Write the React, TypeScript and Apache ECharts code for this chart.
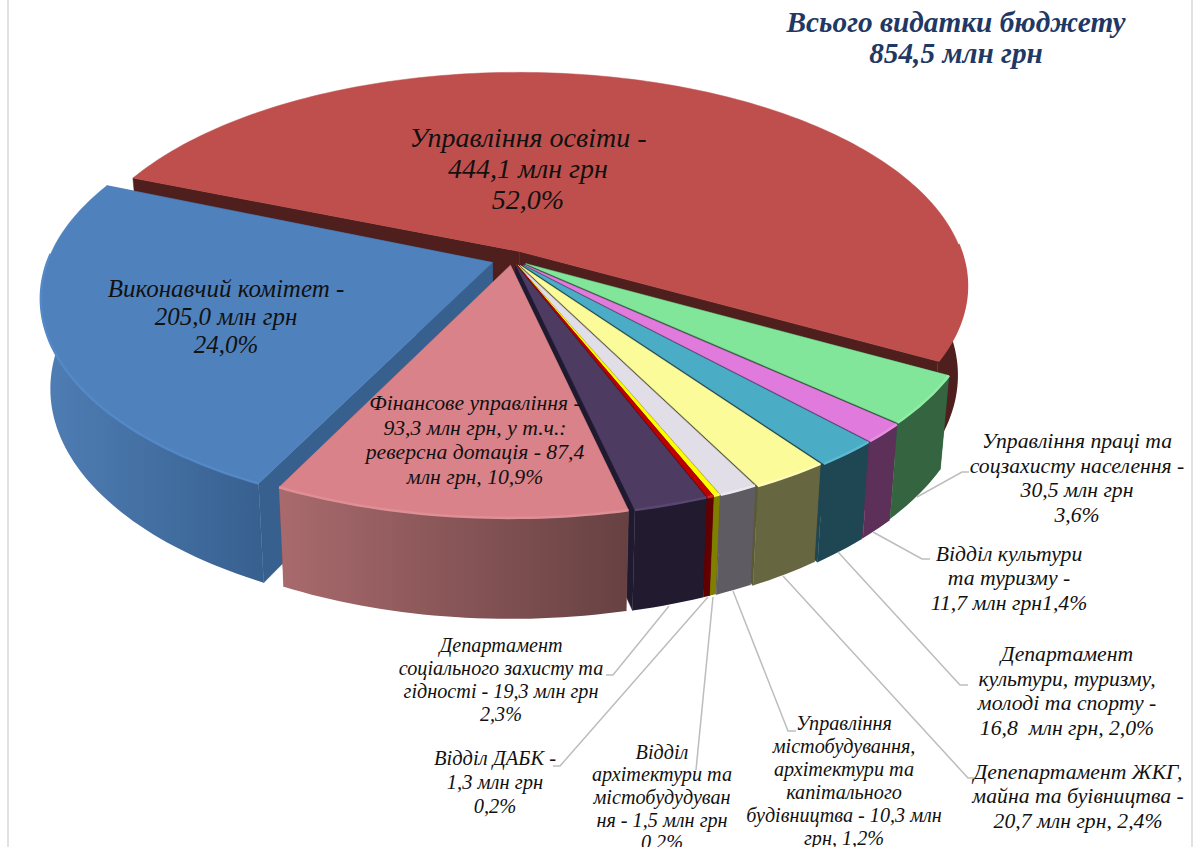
import React, { useEffect, useRef } from "react";
import * as echarts from "echarts";

const names = ["Управління освіти","Управління праці та соцзахисту населення","Відділ культури та туризму","Департамент культури, туризму, молоді та спорту","Депепартамент ЖКГ, майна та буівництва","Управління містобудування, архітектури та капітального будівництва","Відділ архітектури та містобудудування","Відділ ДАБК","Департамент соціального захисту та гідності","Фінансове управління","Виконавчий комітет"];
const shares = [52.0, 3.6, 1.4, 2.0, 2.4, 1.2, 0.2, 0.2, 2.3, 10.9, 24.0];
const explode = [0.04, 0.038, 0.04, 0.04, 0.036, 0.032, 0.03, 0.03, 0.03, 0.03, 0.047];
const topColors = ["#BE4F4C","#82E69A","#E17ADD","#4BACC6","#FBFB99","#E2DEE8","#FFFF00","#C00000","#4E3B62","#D9828A","#4F81BD"];
const wallFrom = ["#4F1F1E","#356440","#5C3058","#1F4753","#666640","#5F5B62","#7F7F00","#600000","#221A2F","#A96A6D","#4F7EB5"];
const wallTo = ["#4F1F1E","#356440","#5C3058","#1F4753","#666640","#5F5B62","#7F7F00","#600000","#221A2F","#674142","#37608F"];
const faceColors = ["#4F1F1E","#2F5A3A","#5C3058","#1F4753","#5A5A38","#5F5B62","#7F7F00","#600000","#1F1A30","#8A5557","#37608F"];
const rimColors = ["#BE4F4C","#8FEDA5","#E78FE3","#5DB8D0","#FDFDB5","#ECE9F0","#FFFF40","#D02020","#5A4770","#E08F97","#5588C6"];
const paintOrder = [0, 1, 2, 3, 4, 5, 6, 7, 8, 10, 9];

const titleLines = "Всього видатки бюджету\n854,5 млн грн";
const labelTexts = [
  { t: "Управління освіти -\n444,1 млн грн\n52,0%", x: 528, y: 168, s: 28, lh: 31 },
  { t: "Виконавчий комітет -\n205,0 млн грн\n24,0%", x: 226, y: 316, s: 25, lh: 28 },
  { t: "Фінансове управління -\n93,3 млн грн, у т.ч.:\nреверсна дотація - 87,4\nмлн грн, 10,9%", x: 475, y: 440, s: 21.7, lh: 24.5 },
  { t: "Управління праці та\nсоцзахисту населення -\n30,5 млн грн\n3,6%", x: 1077, y: 478, s: 21.7, lh: 24.5 },
  { t: "Відділ культури\nта туризму -\n11,7 млн грн1,4%", x: 1009, y: 578, s: 21.7, lh: 24.5 },
  { t: "Департамент\nкультури, туризму,\nмолоді та спорту -\n16,8  млн грн, 2,0%", x: 1067, y: 691, s: 21.7, lh: 24.5 },
  { t: "Депепартамент ЖКГ,\nмайна та буівництва -\n20,7 млн грн, 2,4%", x: 1078, y: 796, s: 21.7, lh: 24.5 },
  { t: "Управління\nмістобудування,\nархітектури та\nкапітального\nбудівництва - 10,3 млн\nгрн, 1,2%", x: 844, y: 780, s: 20.2, lh: 23 },
  { t: "Відділ\nархітектури та\nмістобудудуван\nня - 1,5 млн грн\n0,2%", x: 662, y: 797, s: 20.2, lh: 22.7 },
  { t: "Відділ ДАБК -\n1,3 млн грн\n0,2%", x: 495, y: 782, s: 20.5, lh: 24 },
  { t: "Департамент\nсоціального захисту та\nгідності - 19,3 млн грн\n2,3%", x: 501, y: 679, s: 20.2, lh: 23 },
];
const leaders = [
  [[917, 497], [962, 472], [969, 472]],
  [[873, 532], [922, 559], [930, 559]],
  [[838, 552], [960, 685], [968, 685]],
  [[783, 576], [968, 778], [975, 778]],
  [[733, 591], [788, 731], [796, 731]],
  [[713, 597], [696, 770]],
  [[708, 597], [560, 766], [553, 766]],
  [[669, 606], [613, 675], [606, 675]],
];

const CX = 512, CY = 259, RX = 444, RY = 210, K = 0.16, START = 158;
const project = (X: number, Y: number) => {
  const w = 1 + K * Y;
  return [CX + (RX * X) / w, CY - (RY * Y) / w];
};
const lower = (p: number[]) => [515 + (p[0] - 515) * 0.98, CY + (p[1] - CY) * 1.05 + 88];

function renderSlice(params: any, api: any) {
  const slice = api.value(1);
  const startShare = api.value(2);
  const e = api.value(3);
  const c = api.value(0);
  const a0 = ((START - startShare * 3.6) * Math.PI) / 180;
  const a1 = ((START - (startShare + slice) * 3.6) * Math.PI) / 180;
  const mid = (a0 + a1) / 2;
  const ox = e * Math.cos(mid), oy = e * Math.sin(mid);
  const steps = Math.max(4, Math.ceil(slice * 3));
  const arc: number[][] = [];
  for (let s = 0; s <= steps; s++) {
    const a = a0 + ((a1 - a0) * s) / steps;
    arc.push(project(ox + Math.cos(a), oy + Math.sin(a)));
  }
  const apex = project(ox, oy);
  const arcLow = arc.map(lower);
  const apexLow = lower(apex);
  const wallFill = new echarts.graphic.LinearGradient(0, 0, 1, 0, [
    { offset: 0, color: wallFrom[c] },
    { offset: 1, color: wallTo[c] },
  ]);
  const n = arc.length - 1;
  const poly = (points: number[][], fill: any) => ({
    type: "polygon",
    shape: { points },
    style: { fill, stroke: fill === wallFill ? undefined : fill, lineWidth: 0.5 },
    silent: true,
  });
  const frontIdx: number[] = [];
  for (let s = 0; s <= steps; s++) {
    const a = a0 + ((a1 - a0) * s) / steps;
    if (Math.sin(a) < 0.05) frontIdx.push(s);
  }
  const children: any[] = [
    poly([apex, arc[0], arcLow[0], apexLow], faceColors[c]),
    poly([apex, arc[n], arcLow[n], apexLow], faceColors[c]),
  ];
  if (frontIdx.length > 1) {
    const t = frontIdx.map((s) => arc[s]);
    const b = frontIdx.map((s) => arcLow[s]).reverse();
    children.push(poly([...t, ...b], wallFill));
  }
  children.push(poly([apex, ...arc], topColors[c]));
  if (frontIdx.length > 1) {
    children.push({
      type: "polyline",
      shape: { points: frontIdx.map((s) => arc[s]) },
      style: { fill: null, stroke: rimColors[c], lineWidth: 2.5 },
      silent: true,
    });
  }
  return { type: "group", children };
}

const rows = (() => {
  let acc = 0;
  return shares.map((v, i) => {
    const row = [i, v, acc, explode[i]];
    acc += v;
    return { name: names[i], value: row };
  });
})();
const seriesData = paintOrder.map((i) => rows[i]);

export default function App() {
  const ref = useRef<HTMLDivElement>(null);
  useEffect(() => {
    const chart = echarts.init(ref.current!, null, { renderer: "svg" });
    const font = "'Liberation Serif', serif";
    chart.setOption({
      animation: false,
      backgroundColor: "#ffffff",
      series: [
        {
          type: "custom",
          coordinateSystem: "none",
          renderItem: renderSlice,
          data: seriesData,
          silent: true,
          z: 2,
        },
      ],
      graphic: [
        { type: "rect", z: 0, shape: { x: 8, y: -2, width: 1184, height: 852 }, style: { fill: "#ffffff", stroke: "#D9D9D9", lineWidth: 1.5 } },
        ...leaders.map((pts) => ({
          type: "polyline",
          z: 3,
          shape: { points: pts },
          style: { fill: null, stroke: "#BDBDBD", lineWidth: 1.5 },
        })),
        {
          type: "text", z: 5, x: 956, y: 37,
          style: { text: titleLines, fill: "#1F3864", font: `italic bold 29.3px ${font}`, align: "center", verticalAlign: "middle", lineHeight: 31 },
        },
        ...labelTexts.map((l) => ({
          type: "text", z: 5, x: l.x, y: l.y,
          style: { text: l.t, fill: "#111111", font: `italic ${l.s}px ${font}`, align: "center", verticalAlign: "middle", lineHeight: l.lh },
        })),
      ],
    });
    return () => chart.dispose();
  }, []);
  return <div ref={ref} style={{ position: "fixed", left: 0, top: 0, width: 1197, height: 847 }} />;
}
